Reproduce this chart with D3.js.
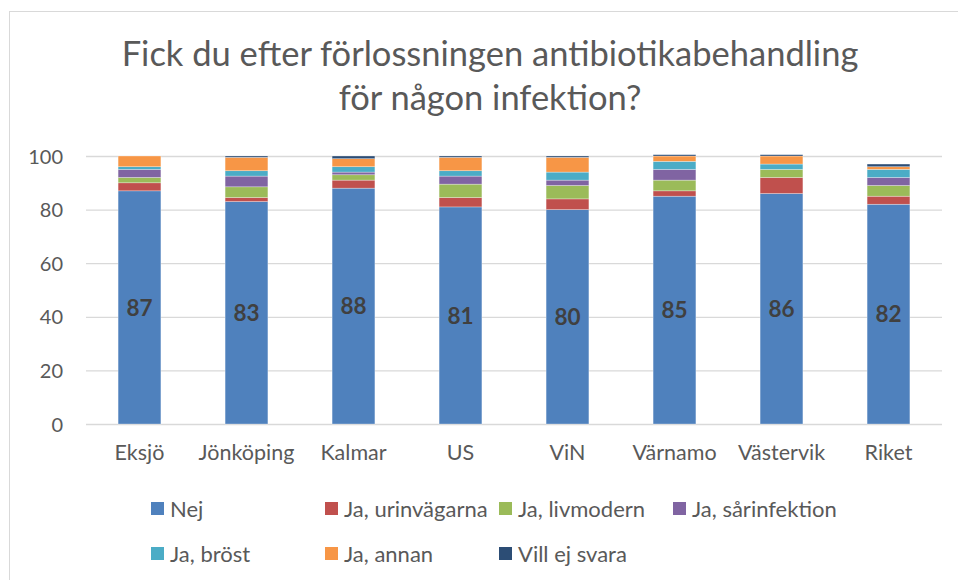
<!DOCTYPE html>
<html>
<head>
<meta charset="utf-8">
<script src="https://cdn.jsdelivr.net/npm/d3@7"></script>
<style>
  body { margin: 0; background: #fff; }
  text { font-family: Lato, "Open Sans", sans-serif; }
</style>
</head>
<body>
<div id="chart"></div>
<script>
var categories = ["Eksjö", "Jönköping", "Kalmar", "US", "ViN", "Värnamo", "Västervik", "Riket"];
var seriesNames = ["Nej", "Ja, urinvägarna", "Ja, livmodern", "Ja, sårinfektion", "Ja, bröst", "Ja, annan", "Vill ej svara"];
var nej       = [87, 83, 88, 81, 80, 85, 86, 82];
var urinvag   = [3, 1.5, 3, 3.5, 4, 2, 6, 3];
var livmodern = [2, 4, 2, 5, 5, 4, 3, 4];
var sarinf    = [3, 4, 1, 3, 2, 4, 0, 3];
var brost     = [1, 2, 2, 2, 3, 3, 2, 3];
var annan     = [4, 5, 3, 5, 5.5, 2, 3, 1];
var villEj    = [0, 0.5, 1, 0.5, 0.5, 0.5, 0.5, 1];
var yTicks = [0, 20, 40, 60, 80, 100];
var colors = ["#4f81bd", "#c0504d", "#9bbb59", "#8064a2", "#4bacc6", "#f79646", "#2c4d75"];

var width = 958, height = 580;
var seriesValues = [nej, urinvag, livmodern, sarinf, brost, annan, villEj];

var rows = categories.map(function(c, i) {
  var r = {cat: c};
  seriesNames.forEach(function(s, j) { r[s] = seriesValues[j][i]; });
  return r;
});
var stacked = d3.stack().keys(seriesNames)(rows);

var svg = d3.select("#chart").append("svg").attr("width", width).attr("height", height);

// chart frame
svg.append("rect").attr("x", 9.5).attr("y", 11.5).attr("width", 1000).attr("height", 1000)
  .attr("fill", "none").attr("stroke", "#d9d9d9").attr("stroke-width", 1);

svg.append("text").attr("x", 490).attr("y", 66).attr("text-anchor", "middle")
  .attr("fill", "#595959").style("font-size", "34.5px")
  .text("Fick du efter förlossningen antibiotikabehandling");
svg.append("text").attr("x", 490).attr("y", 110).attr("text-anchor", "middle")
  .attr("fill", "#595959").style("font-size", "34.5px")
  .text("för någon infektion?");

var x = d3.scaleBand().domain(categories).range([86, 942]).paddingInner(0.6).paddingOuter(0.3);
var y = d3.scaleLinear().domain([0, 100]).range([424, 156]);

// gridlines
svg.append("g").selectAll("line").data(yTicks).enter().append("line")
  .attr("x1", 86).attr("x2", 942)
  .attr("y1", function(d) { return y(d) + 0.5; }).attr("y2", function(d) { return y(d) + 0.5; })
  .attr("stroke", "#d9d9d9").attr("stroke-width", 1.3);

var yAxis = svg.append("g").attr("transform", "translate(73,0)")
  .call(d3.axisLeft(y).tickValues(yTicks).tickSize(0).tickPadding(10));
yAxis.select(".domain").remove();
yAxis.selectAll("text").attr("fill", "#595959").style("font-size", "20px")
  .style("font-family", "Lato, sans-serif").attr("dy", "0.35em");

var xAxis = svg.append("g").attr("transform", "translate(0,424)")
  .call(d3.axisBottom(x).tickSize(0).tickPadding(21));
xAxis.select(".domain").remove();
xAxis.selectAll("text").attr("fill", "#595959").style("font-size", "21.5px")
  .style("font-family", "Lato, sans-serif");

svg.append("g").selectAll("g").data(stacked).enter().append("g")
  .attr("fill", function(d, i) { return colors[i]; })
  .selectAll("rect").data(function(d) { return d; }).enter().append("rect")
  .attr("x", function(d) { return x(d.data.cat); })
  .attr("width", x.bandwidth())
  .attr("y", function(d) { return y(d[1]); })
  .attr("height", function(d) { return Math.max(0, y(d[0]) - y(d[1])); })
  .attr("stroke", "#fff").attr("stroke-opacity", 0.5).attr("stroke-width", 0.6);

// data labels on Nej
svg.append("g").selectAll("text").data(stacked[0]).enter().append("text")
  .attr("x", function(d) { return x(d.data.cat) + x.bandwidth() / 2; })
  .attr("y", function(d) { return y((d[0] + d[1]) / 2); })
  .attr("dy", "0.36em").attr("text-anchor", "middle")
  .attr("fill", "#404040").style("font-size", "22.5px").style("font-weight", "bold")
  .text(function(d) { return d.data.Nej; });

// legend
var legend = svg.append("g").selectAll("g").data(seriesNames).enter().append("g")
  .attr("transform", function(d, i) {
    return "translate(" + (151 + (i % 4) * 174) + "," + (i < 4 ? 502 : 547) + ")";
  });
legend.append("rect").attr("width", 13).attr("height", 13)
  .attr("fill", function(d, i) { return colors[i]; });
legend.append("text").attr("x", 19).attr("y", 7).attr("dy", "0.35em")
  .attr("fill", "#595959").style("font-size", "22px").text(function(d) { return d; });
</script>
</body>
</html>
